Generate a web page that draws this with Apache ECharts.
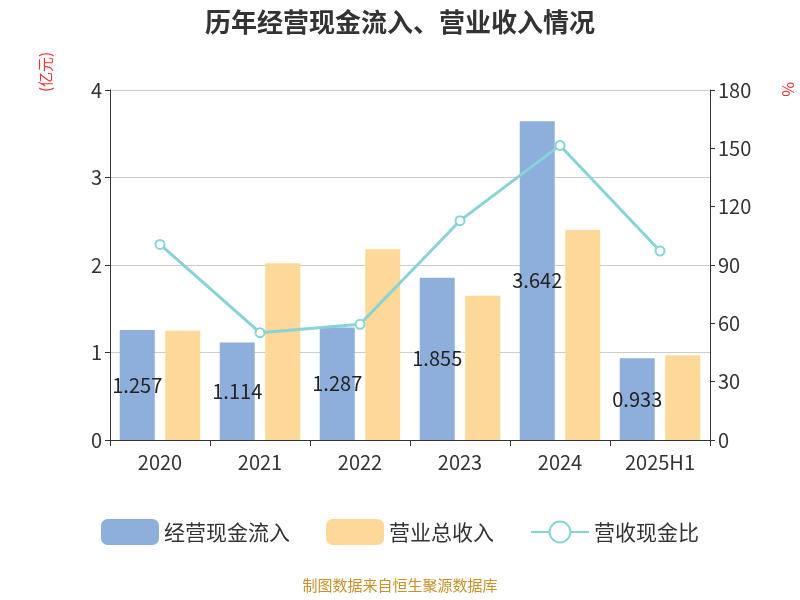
<!DOCTYPE html>
<html><head><meta charset="utf-8">
<script src="https://cdn.jsdelivr.net/npm/echarts@6/dist/echarts.min.js"></script>
<style>html,body{margin:0;padding:0}#c{width:800px;height:600px}</style>
</head><body><div id="c"></div>
<script>
const categories=['2020','2021','2022','2023','2024','2025H1'];
const cashInflow=[1.257,1.114,1.287,1.855,3.642,0.933];
const revenue=[1.25,2.02,2.18,1.65,2.40,0.97];
const ratio=[100.6,55.2,59.5,112.8,151.5,97.2];
const leftTicks={min:0,max:4,interval:1};
const rightTicks={min:0,max:180,interval:30};
const chart=echarts.init(document.getElementById('c'));
const axisLine={show:true,lineStyle:{color:'#333'}};
chart.setOption({
  textStyle:{fontFamily:'Noto Sans CJK SC'},
  title:{text:'历年经营现金流入、营业收入情况',left:'center',top:4,textStyle:{fontSize:26,fontWeight:'bold',color:'#333'}},
  grid:{left:110,right:90,top:90,bottom:160},
  legend:{bottom:50,itemWidth:58,itemHeight:26,itemGap:36,textStyle:{fontSize:21,color:'#333'},
    data:['经营现金流入','营业总收入','营收现金比']},
  graphic:[
    {type:'text',left:'center',top:578,style:{text:'制图数据来自恒生聚源数据库',fill:'#c8922a',fontSize:15,fontFamily:'Noto Sans CJK SC'}},
    {type:'text',x:38,y:92,rotation:Math.PI/2,style:{text:'(亿元)',fill:'#e33',fontSize:15,fontFamily:'Noto Sans CJK SC'}},
    {type:'text',x:796,y:82,rotation:-Math.PI/2,style:{text:'%',fill:'#e33',fontSize:16,fontFamily:'Noto Sans CJK SC'}}
  ],
  xAxis:{type:'category',data:categories,axisLine:axisLine,axisTick:{show:true,alignWithLabel:false,length:6},
    axisLabel:{fontSize:20,color:'#333',margin:12}},
  yAxis:[
    {type:'value',...leftTicks,axisLine:axisLine,axisTick:{show:true},axisLabel:{fontSize:20,color:'#333'},
      splitLine:{lineStyle:{color:'#ccc'}}},
    {type:'value',...rightTicks,axisLine:axisLine,axisTick:{show:true},axisLabel:{fontSize:20,color:'#333'},
      splitLine:{show:false}}
  ],
  series:[
    {name:'经营现金流入',type:'bar',data:cashInflow,barWidth:35,barGap:'30%',itemStyle:{color:'#8eaedc'},
      label:{show:true,position:'inside',fontSize:20,color:'#222'}},
    {name:'营业总收入',type:'bar',data:revenue,barWidth:35,itemStyle:{color:'#fed898'}},
    {name:'营收现金比',type:'line',yAxisIndex:1,data:ratio,symbol:'circle',symbolSize:9,
      lineStyle:{color:'#87d3d6',width:3},itemStyle:{color:'#fff',borderColor:'#87d3d6',borderWidth:2}}
  ]
});
</script></body></html>
